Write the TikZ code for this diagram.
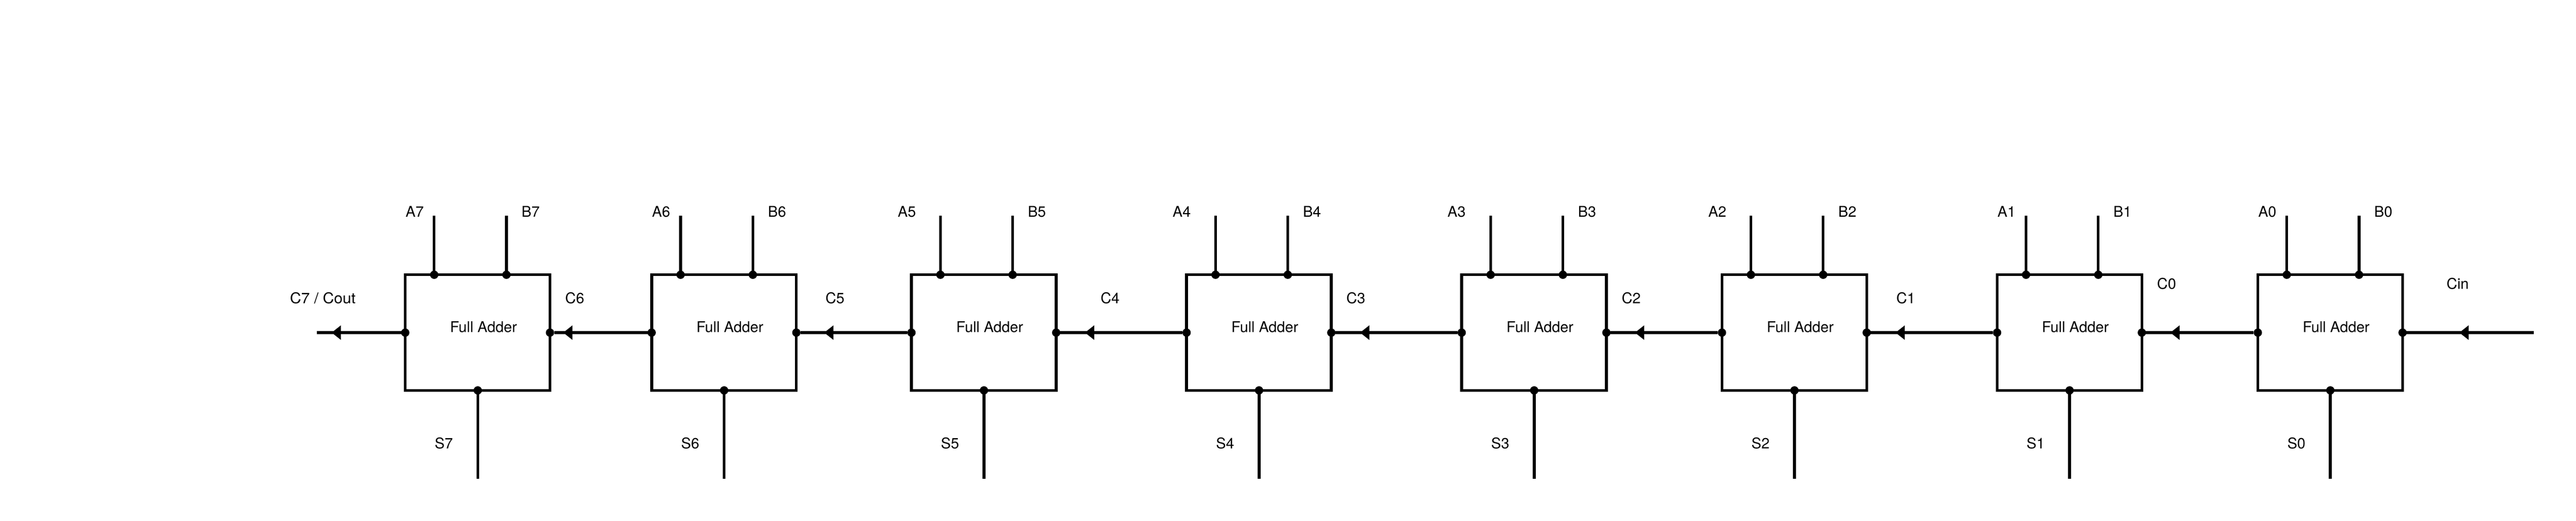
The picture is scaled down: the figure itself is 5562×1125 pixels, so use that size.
\documentclass[tikz,border=0pt]{standalone}
\usepackage{fontspec}
\setmainfont{TeX Gyre Heros}
\usetikzlibrary{arrows.meta}
\tikzset{
  fabox/.style={draw=black,line width=6pt,rectangle,minimum width=312.5pt,minimum height=250pt,inner sep=0pt,outer sep=0pt},
  port/.style={circle,fill=black,inner sep=0pt,outer sep=0pt,minimum size=18pt},
  wire/.style={draw=black,line width=6pt},
  arrowwire/.style={wire,-{Triangle[length=20pt,width=30pt]}},
  lbl/.style={font=\fontsize{32}{36}\selectfont,anchor=base,inner sep=0pt,text=black}
}
\begin{document}
\begin{tikzpicture}[x=1pt,y=-1pt]
\useasboundingbox (0,0) rectangle (5562,1125);
% adders: index, left edge, offset of the A label
\foreach \i/\L/\O in {7/875/20.5,6/1407/20.5,5/1968/-10,4/2562/-10.5,3/3156/-11,2/3718/-10,1/4312/20.5,0/4875/20.5}{
  \node[fabox] (fa\i) at (\L+156.25,718.6) {};
  \node[lbl] (name\i) at (\L+169,718.3) {Full Adder};
  \node[port] (pa\i) at (\L+62.5,593.7) {};
  \node[port] (pb\i) at (\L+218.5,593.7) {};
  \node[port] (ps\i) at (\L+156.5,843.5) {};
  \node[port] (pw\i) at (\L,718.7) {};
  \node[port] (pe\i) at (\L+312.5,718.7) {};
  \coordinate (ta\i) at (\L+62.5,466);
  \coordinate (tb\i) at (\L+218.5,466);
  \coordinate (ts\i) at (\L+156.5,1034);
  \draw[wire] (pa\i) -- (ta\i);
  \draw[wire] (pb\i) -- (tb\i);
  \draw[wire] (ps\i) -- (ts\i);
  \node[lbl] (la\i) at (\L+\O,468.8) {A\i};
  \node[lbl] (lb\i) at (\L+270.8,468.8) {B\i};
  \node[lbl] (ls\i) at (\L+83.3,969) {S\i};
}
% carries between adders: source, target, arrow tip x
\foreach \s/\t/\x in {0/1/4686,1/2/4092.7,2/3/3530,3/4/2936.5,4/5/2342.5,5/6/1779.5,6/7/1216}{
  \coordinate (tip\s) at (\x,718.7);
  \draw[wire] (pw\s) -- (pe\t);
  \draw[arrowwire] (pw\s) -- (tip\s);
}
% carry in and carry out
\coordinate (cinend) at (5471,718.7);
\coordinate (cintip) at (5310,718.7);
\draw[wire] (cinend) -- (pe0);
\draw[arrowwire] (cinend) -- (cintip);
\coordinate (coutend) at (684,718.7);
\coordinate (couttip) at (716,718.7);
\draw[wire] (pw7) -- (coutend);
\draw[arrowwire] (pw7) -- (couttip);
% carry labels
\node[lbl] (c0) at (4678,625) {C0};
\node[lbl] (c1) at (4115,656) {C1};
\node[lbl] (c2) at (3522,656) {C2};
\node[lbl] (c3) at (2927.5,656) {C3};
\node[lbl] (c4) at (2397,656) {C4};
\node[lbl] (c5) at (1803,656) {C5};
\node[lbl] (c6) at (1241,656) {C6};
\node[lbl,transform shape,xscale=1.05] (c7) at (697,656) {C7 / Cout};
\node[lbl] (cin) at (5306.5,625) {Cin};
\end{tikzpicture}
\end{document}
